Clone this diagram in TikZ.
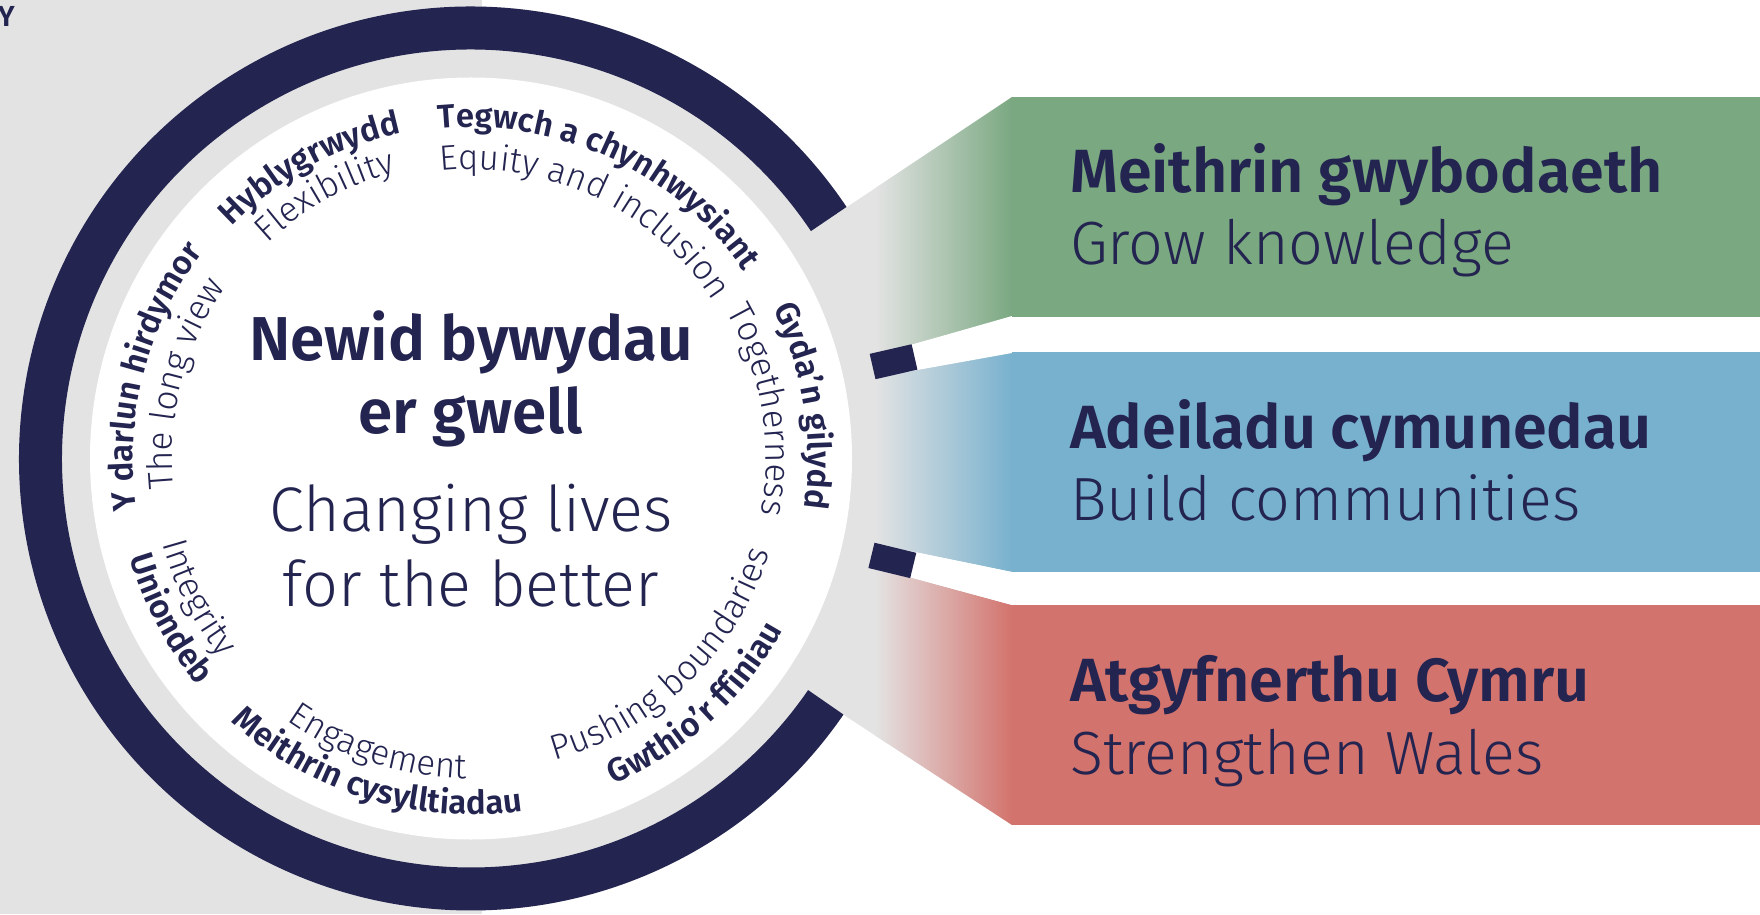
\documentclass[tikz,border=0pt]{standalone}
\usepackage{fontspec}
\setmainfont{Fira Sans}
\newfontfamily\lt{Fira Sans Light}
\newfontfamily\bd{Fira Sans SemiBold}
\usetikzlibrary{decorations.text,calc}
\definecolor{navy}{RGB}{35,36,80}
\definecolor{lgray}{RGB}{227,227,227}
\definecolor{grn}{RGB}{122,168,129}
\definecolor{blu}{RGB}{120,177,206}
\definecolor{rd}{RGB}{211,115,109}
\newcommand\bdf{\bd\fontsize{33}{36}\selectfont\color{navy}}
\newcommand\ltf{\lt\fontsize{35}{40}\selectfont\color{navy}}
\newcommand\cwtext[4]{\path[decorate, decoration={text along path, text align=center, text={|#3|#4}}] ($(C)+({#1+70}:#2)$) arc[start angle={#1+70}, end angle={#1-70}, radius=#2];}
\newcommand\ccwtext[4]{\path[decorate, decoration={text along path, text align=center, text={|#3|#4}}] ($(C)+({#1-70}:#2)$) arc[start angle={#1-70}, end angle={#1+70}, radius=#2];}
\begin{document}
\begin{tikzpicture}[x=1pt,y=1pt,
  box/.style={anchor=south west, minimum width=748, minimum height=220, inner sep=0, draw=none},
  ttl/.style={anchor=base west, text=navy, font=\bd\fontsize{61}{70}\selectfont, inner sep=0},
  sub/.style={anchor=base west, text=navy, font=\lt\fontsize{61}{70}\selectfont, inner sep=0},
  ctrb/.style={anchor=base, text=navy, font=\bd\fontsize{62}{66}\selectfont, inner sep=0},
  ctrl/.style={anchor=base, text=navy, font=\lt\fontsize{63}{66}\selectfont, inner sep=0}]
\useasboundingbox (0,0) rectangle (1760,914);
\fill[lgray] (0,0) rectangle (482,914);
\coordinate (C) at (471,455.5);
\fill[lgray] (C) circle[radius=452];
% tapers
\begin{scope}
\clip (813,685) -- (847,707) -- (1012,817) -- (1012,597) -- (910,569) -- (871,559) -- (800,559) -- (790,674) -- cycle;
\fill[lgray] (780,540) rectangle (1012,830);
\shade[left color=lgray, right color=grn] (875,540) rectangle (1012,830);
\end{scope}
\begin{scope}
\clip (800,552) -- (905,549) -- (916,544) -- (1012,562) -- (1012,342) -- (915,362) -- (875,369) -- (800,369) -- cycle;
\fill[lgray] (780,330) rectangle (1012,575);
\shade[left color=lgray, right color=blu] (875,330) rectangle (1012,575);
\end{scope}
\begin{scope}
\clip (800,354) -- (871,346) -- (912,336) -- (1012,309) -- (1012,89) -- (847,197) -- (813,221) -- (790,234) -- cycle;
\fill[lgray] (780,80) rectangle (1012,370);
\shade[left color=lgray, right color=rd] (875,80) rectangle (1012,370);
\end{scope}
% white gaps
\fill[white] (900,566) -- (1012,598) -- (1012,561) -- (906,542) -- cycle;
\fill[white] (905,364) -- (1012,342) -- (1012,309) -- (902,339) -- cycle;
% boxes
\node[box, fill=grn] (bg) at (1012,597) {};
\node[box, fill=blu] (bb) at (1012,342) {};
\node[box, fill=rd] (br) at (1012,89) {};
\node[ttl] (tg) at (1070,721) {Meithrin gwybodaeth};
\node[sub] (sg) at (1070,649) {Grow knowledge};
\node[ttl] (tb) at (1070,465) {Adeiladu cymunedau};
\node[sub] (sb) at (1070,394) {Build communities};
\node[ttl] (tr) at (1070,213) {Atgyfnerthu Cymru};
\node[sub] (sr) at (1070,140) {Strengthen Wales};
% ring
\draw[navy, line width=43] ($(C)+(33.8:430.5)$) arc[start angle=33.8, end angle=325.5, radius=430.5];
\draw[navy, line width=26] ($(C)+(12.9:412)$) -- ($(C)+(12.9:455)$);
\draw[navy, line width=26] ($(C)+(-13.6:412)$) -- ($(C)+(-13.6:455)$);
\fill[white] (C) circle[radius=381];
% centre text
\node[ctrb] (c1) at (471,553) {Newid bywydau};
\node[ctrb] (c2) at (471,480) {er gwell};
\node[ctrl] (c3) at (471,383) {Changing lives};
\node[ctrl] (c4) at (471,308) {for the better};
% values around the circle
\cwtext{119}{333}{\bdf}{Hyblygrwydd}
\cwtext{119}{296}{\ltf}{Flexibility}
\cwtext{65}{331}{\bdf}{Tegwch a chynhwysiant}
\cwtext{64.5}{289}{\ltf}{Equity and inclusion}
\cwtext{9}{337}{\bdf}{Gyda’n gilydd}
\cwtext{9.5}{295}{\ltf}{Togetherness}
\ccwtext{-47.6}{356}{\bdf}{Gwthio’r ffiniau}
\ccwtext{-46}{313}{\ltf}{Pushing boundaries}
\ccwtext{-107}{356}{\bdf}{Meithrin cysylltiadau}
\ccwtext{-108}{320}{\ltf}{Engagement}
\ccwtext{-152}{355}{\bdf}{Uniondeb}
\ccwtext{-153}{320}{\ltf}{Integrity}
\cwtext{165.5}{338}{\bdf}{Y darlun hirdymor}
\cwtext{165.4}{299}{\ltf}{The long view}
\node[anchor=base east, text=navy, font=\bd\fontsize{29}{30}\selectfont, inner sep=0] (yy) at (15,887) {Y};
\end{tikzpicture}
\end{document}
